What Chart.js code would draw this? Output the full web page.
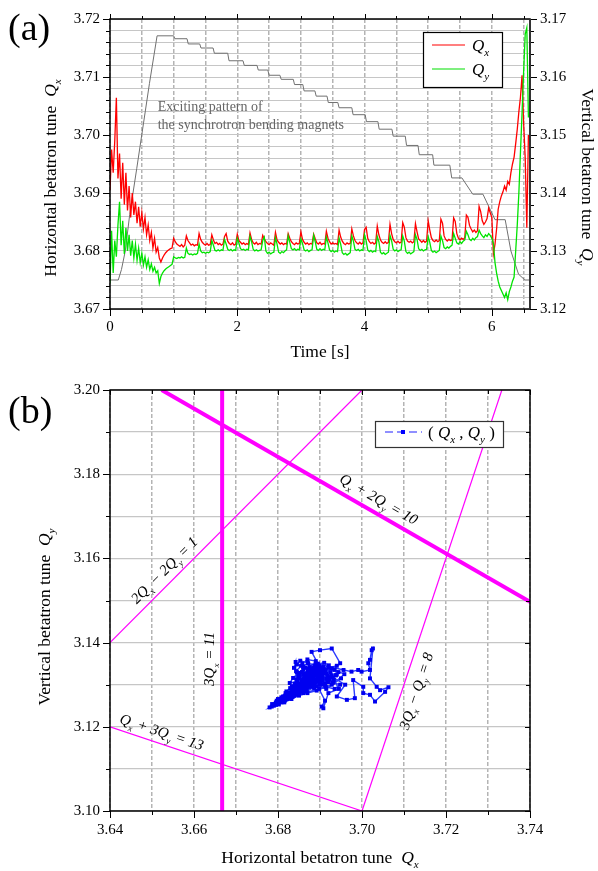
<!DOCTYPE html>
<html>
<head>
<meta charset="utf-8">
<script src="https://cdn.jsdelivr.net/npm/chart.js@4.4.1/dist/chart.umd.min.js"></script>
<style>
  body { margin: 0; background: #fff; }
  #wrap { position: relative; width: 598px; height: 871px; }
  canvas { position: absolute; left: 0; }
  #tuneTime { top: 0; }
  #tuneDiagram { top: 370px; }
</style>
</head>
<body>
<div id="wrap">
  <canvas id="tuneTime" width="598" height="370"></canvas>
  <canvas id="tuneDiagram" width="598" height="501"></canvas>
</div>
<script>
const FONT = '"Liberation Serif", "Times New Roman", serif';

// tune measurement, one sample every 25 ms after injection
const sampleStep = 0.025;

const qxTune = [
  3.6905, 3.6975, 3.6935, 3.6990, 3.7064, 3.6925, 3.6968, 3.6890, 3.6952, 3.6880,
  3.6935, 3.6870, 3.6912, 3.6858, 3.6900, 3.6862, 3.6885, 3.6848, 3.6876, 3.6842,
  3.6866, 3.6838, 3.6858, 3.6828, 3.6845, 3.6818, 3.6832, 3.6805, 3.6822, 3.6798,
  3.6806, 3.6788, 3.6781, 3.6788, 3.6793, 3.6797, 3.6800, 3.6802, 3.6804, 3.6805,
  3.6822, 3.6816, 3.6812, 3.6810, 3.6808, 3.6811, 3.6807, 3.6810,
  3.6826, 3.6818, 3.6814, 3.6810, 3.6812, 3.6809, 3.6811, 3.6810,
  3.6830, 3.6820, 3.6815, 3.6812, 3.6810, 3.6813, 3.6810, 3.6811,
  3.6828, 3.6819, 3.6813, 3.6815, 3.6811, 3.6813, 3.6810, 3.6812,
  3.6825, 3.6830, 3.6817, 3.6813, 3.6811, 3.6814, 3.6810, 3.6812,
  3.6829, 3.6818, 3.6815, 3.6812, 3.6814, 3.6811, 3.6813, 3.6811,
  3.6831, 3.6820, 3.6814, 3.6812, 3.6815, 3.6811, 3.6813, 3.6812,
  3.6827, 3.6821, 3.6816, 3.6813, 3.6811, 3.6814, 3.6812, 3.6810,
  3.6832, 3.6819, 3.6815, 3.6812, 3.6814, 3.6811, 3.6813, 3.6812,
  3.6830, 3.6822, 3.6816, 3.6813, 3.6811, 3.6814, 3.6812, 3.6813,
  3.6833, 3.6820, 3.6815, 3.6812, 3.6814, 3.6811, 3.6813, 3.6812,
  3.6829, 3.6821, 3.6814, 3.6812, 3.6815, 3.6811, 3.6813, 3.6812,
  3.6834, 3.6822, 3.6816, 3.6812, 3.6814, 3.6812, 3.6813, 3.6811,
  3.6836, 3.6824, 3.6817, 3.6813, 3.6811, 3.6814, 3.6812, 3.6813,
  3.6838, 3.6826, 3.6818, 3.6814, 3.6812, 3.6815, 3.6812, 3.6814,
  3.6837, 3.6841, 3.6822, 3.6816, 3.6813, 3.6815, 3.6812, 3.6814,
  3.6843, 3.6828, 3.6819, 3.6815, 3.6813, 3.6816, 3.6813, 3.6815,
  3.6846, 3.6830, 3.6820, 3.6816, 3.6814, 3.6817, 3.6814, 3.6815,
  3.6849, 3.6841, 3.6823, 3.6817, 3.6815, 3.6817, 3.6814, 3.6816,
  3.6847, 3.6833, 3.6821, 3.6818, 3.6815, 3.6818, 3.6815, 3.6817,
  3.6852, 3.6836, 3.6823, 3.6818, 3.6816, 3.6819, 3.6816, 3.6818,
  3.6855, 3.6848, 3.6826, 3.6820, 3.6817, 3.6820, 3.6818, 3.6819,
  3.6857, 3.6851, 3.6830, 3.6822, 3.6819, 3.6822, 3.6820, 3.6823,
  3.6862, 3.6858, 3.6844, 3.6838, 3.6833, 3.6836, 3.6832, 3.6835,
  3.6877, 3.6868, 3.6852, 3.6846, 3.6850, 3.6856, 3.6874, 3.6866,
  3.6858, 3.6795, 3.6812, 3.6838, 3.6872, 3.6885, 3.6895, 3.6902,
  3.6912, 3.6905, 3.6920, 3.6915, 3.6935, 3.6950, 3.6962, 3.6985,
  3.7010, 3.7040, 3.7065, 3.7103, 3.7020, 3.6960, 3.6840, 3.7000
];

const qyTune = [
  3.1244, 3.1335, 3.1262, 3.1318, 3.1290, 3.1345, 3.1385, 3.1310, 3.1352, 3.1295,
  3.1340, 3.1300, 3.1328, 3.1292, 3.1318, 3.1288, 3.1312, 3.1284, 3.1305, 3.1280,
  3.1296, 3.1276, 3.1290, 3.1272, 3.1285, 3.1268, 3.1278, 3.1265, 3.1272, 3.1262,
  3.1266, 3.1244, 3.1256, 3.1262, 3.1266, 3.1269, 3.1271, 3.1273, 3.1275, 3.1277,
  3.1290, 3.1288, 3.1287, 3.1289, 3.1288, 3.1290, 3.1288, 3.1289,
  3.1305, 3.1296, 3.1294, 3.1295, 3.1293, 3.1295, 3.1294, 3.1296,
  3.1312, 3.1300, 3.1297, 3.1298, 3.1296, 3.1298, 3.1297, 3.1299,
  3.1318, 3.1310, 3.1301, 3.1300, 3.1302, 3.1300, 3.1302, 3.1301,
  3.1320, 3.1312, 3.1303, 3.1301, 3.1303, 3.1300, 3.1302, 3.1301,
  3.1322, 3.1314, 3.1304, 3.1302, 3.1303, 3.1301, 3.1303, 3.1302,
  3.1325, 3.1316, 3.1303, 3.1300, 3.1302, 3.1300, 3.1301, 3.1302,
  3.1318, 3.1324, 3.1300, 3.1296, 3.1298, 3.1295, 3.1297, 3.1298,
  3.1323, 3.1312, 3.1298, 3.1296, 3.1299, 3.1297, 3.1300, 3.1302,
  3.1326, 3.1315, 3.1304, 3.1302, 3.1304, 3.1301, 3.1303, 3.1302,
  3.1321, 3.1313, 3.1302, 3.1300, 3.1302, 3.1299, 3.1301, 3.1302,
  3.1327, 3.1316, 3.1303, 3.1301, 3.1304, 3.1301, 3.1303, 3.1302,
  3.1324, 3.1314, 3.1302, 3.1299, 3.1301, 3.1298, 3.1300, 3.1299,
  3.1322, 3.1312, 3.1297, 3.1294, 3.1296, 3.1293, 3.1295, 3.1297,
  3.1326, 3.1317, 3.1303, 3.1301, 3.1303, 3.1300, 3.1302, 3.1301,
  3.1328, 3.1318, 3.1302, 3.1299, 3.1301, 3.1298, 3.1300, 3.1299,
  3.1325, 3.1316, 3.1298, 3.1295, 3.1297, 3.1294, 3.1296, 3.1298,
  3.1327, 3.1318, 3.1303, 3.1300, 3.1302, 3.1299, 3.1301, 3.1302,
  3.1326, 3.1317, 3.1299, 3.1296, 3.1298, 3.1295, 3.1297, 3.1299,
  3.1328, 3.1320, 3.1304, 3.1301, 3.1303, 3.1300, 3.1302, 3.1303,
  3.1325, 3.1315, 3.1301, 3.1298, 3.1300, 3.1297, 3.1299, 3.1301,
  3.1326, 3.1318, 3.1306, 3.1304, 3.1307, 3.1305, 3.1308, 3.1310,
  3.1330, 3.1322, 3.1314, 3.1312, 3.1316, 3.1313, 3.1317, 3.1319,
  3.1334, 3.1328, 3.1320, 3.1318, 3.1322, 3.1319, 3.1323, 3.1325,
  3.1336, 3.1330, 3.1326, 3.1323, 3.1328, 3.1325, 3.1330, 3.1327,
  3.1322, 3.1313, 3.1280, 3.1262, 3.1248, 3.1238, 3.1232, 3.1226,
  3.1220, 3.1228, 3.1216, 3.1230, 3.1238, 3.1248, 3.1255, 3.1300,
  3.1345, 3.1400, 3.1470, 3.1538, 3.1610, 3.1674, 3.1685, 3.1530
];

// bending magnet excitation pattern, drawn on the Qx scale (shape only)
const excitationTime = [
  0, 0.13, 0.18, 0.24, 0.31, 0.42, 0.62, 0.74, 1.00, 1.02,
  1.21, 1.23, 1.41, 1.43, 1.62, 1.64, 1.85, 1.87, 2.09, 2.11,
  2.31, 2.33, 2.48, 2.50, 2.67, 2.69, 2.88, 2.90, 3.03, 3.05,
  3.22, 3.24, 3.41, 3.43, 3.58, 3.60, 3.80, 3.82, 4.01, 4.03,
  4.21, 4.23, 4.43, 4.45, 4.64, 4.66, 4.84, 4.86, 5.07, 5.09,
  5.34, 5.37, 5.53, 5.70, 5.86, 6.05, 6.21, 6.30, 6.42, 6.52, 6.60
];
const excitationLevel = [
  3.6750, 3.6750, 3.6768, 3.6800, 3.6863, 3.6942, 3.7089, 3.7171, 3.7171, 3.7166,
  3.7166, 3.7157, 3.7157, 3.7150, 3.7150, 3.7141, 3.7141, 3.7128, 3.7128, 3.7120,
  3.7120, 3.7112, 3.7112, 3.7103, 3.7103, 3.7096, 3.7096, 3.7087, 3.7087, 3.7076,
  3.7076, 3.7067, 3.7067, 3.7056, 3.7056, 3.7047, 3.7047, 3.7035, 3.7035, 3.7023,
  3.7023, 3.7010, 3.7010, 3.6998, 3.6998, 3.6982, 3.6982, 3.6966, 3.6966, 3.6948,
  3.6948, 3.6926, 3.6926, 3.6898, 3.6898, 3.6854, 3.6854, 3.6800, 3.6760, 3.6750, 3.6750
];

// (Qx, Qy) path on the tune diagram
const pathQx = [
  3.6905, 3.6948, 3.6928, 3.6900, 3.6880, 3.6895, 3.6956, 3.6975, 3.6991, 3.6999,
  3.7019, 3.7015, 3.7019, 3.7023, 3.7026, 3.7019, 3.7035, 3.7043, 3.7063, 3.7055,
  3.7031, 3.7019, 3.7003, 3.7003, 3.6979, 3.6983, 3.6964, 3.6940, 3.6960, 3.6930,
  3.6945, 3.6920, 3.6908, 3.6904, 3.6912, 3.6890, 3.6885, 3.6902, 3.6872, 3.6868,
  3.6812, 3.6826, 3.6838, 3.6822, 3.6806, 3.6795, 3.6810, 3.6829, 3.6846, 3.6861,
  3.6876, 3.6863, 3.6848, 3.6857, 3.6874, 3.6887, 3.6871, 3.6853, 3.6845, 3.6860,
  3.6880, 3.6898, 3.6884, 3.6867, 3.6852, 3.6836, 3.6819, 3.6801, 3.6815, 3.6833,
  3.6850, 3.6868, 3.6886, 3.6903, 3.6920, 3.6906, 3.6889, 3.6872, 3.6857, 3.6842,
  3.6829, 3.6844, 3.6861, 3.6879, 3.6896, 3.6913, 3.6901, 3.6882, 3.6864, 3.6847,
  3.6833, 3.6820, 3.6808, 3.6797, 3.6786, 3.6800, 3.6818, 3.6837, 3.6855, 3.6874,
  3.6862, 3.6884, 3.6871, 3.6893, 3.6879, 3.6858, 3.6847, 3.6869, 3.6888, 3.6902,
  3.6915, 3.6897, 3.6876, 3.6860, 3.6852, 3.6866, 3.6885, 3.6906, 3.6921, 3.6910,
  3.6889, 3.6872, 3.6855, 3.6843, 3.6851, 3.6840, 3.6832, 3.6851, 3.6874, 3.6896,
  3.6918, 3.6933, 3.6912, 3.6886, 3.6862, 3.6843, 3.6826, 3.6818, 3.6834, 3.6856,
  3.6878, 3.6899, 3.6884, 3.6866, 3.6849, 3.6836, 3.6828, 3.6845, 3.6868, 3.6890,
  3.6912, 3.6928, 3.6944, 3.6927, 3.6905, 3.6883, 3.6865, 3.6848, 3.6830, 3.6812,
  3.6808, 3.6824, 3.6841, 3.6859, 3.6877, 3.6894, 3.6908, 3.6890, 3.6870, 3.6858,
  3.6872, 3.6894, 3.6915, 3.6932, 3.6948, 3.6935, 3.6914, 3.6892, 3.6870, 3.6850,
  3.6832, 3.6815, 3.6802, 3.6816, 3.6835, 3.6857, 3.6880, 3.6900, 3.6922, 3.6940,
  3.6895, 3.6910, 3.6880, 3.6862, 3.6890, 3.6875, 3.6905, 3.6858, 3.6885, 3.6918,
  3.6870, 3.6898, 3.6925, 3.6882, 3.6850, 3.6875, 3.6900, 3.6938, 3.6912, 3.6865,
  3.6888, 3.6870, 3.6845, 3.6860, 3.6895, 3.6920, 3.6940, 3.6908, 3.6878, 3.6855,
  3.6838, 3.6852, 3.6880, 3.6902, 3.6930, 3.6950, 3.6915, 3.6892, 3.6868, 3.6835,
  3.6848, 3.6872, 3.6890, 3.6862, 3.6842, 3.6828, 3.6845, 3.6865, 3.6882, 3.6900,
  3.6925, 3.6895, 3.6870, 3.6840, 3.6822, 3.6835, 3.6855, 3.6878, 3.6905, 3.6935,
  3.6958, 3.6928, 3.6898, 3.6860, 3.6830, 3.6815, 3.6825, 3.6848, 3.6872, 3.6862,
  3.6838, 3.6812, 3.6800, 3.6818, 3.6808, 3.6795, 3.6803, 3.6790, 3.6798, 3.6785,
  3.6780, 3.6788, 3.6800, 3.6820, 3.6843, 3.6842, 3.6838, 3.6845, 3.6865, 3.6885
];
const pathQy = [
  3.1312, 3.1351, 3.1386, 3.1382, 3.1378, 3.1350, 3.1335, 3.1331, 3.1335, 3.1331,
  3.1335, 3.1351, 3.1359, 3.1382, 3.1386, 3.1315, 3.1295, 3.1287, 3.1294, 3.1283,
  3.1260, 3.1276, 3.1280, 3.1295, 3.1311, 3.1268, 3.1264, 3.1272, 3.1300, 3.1318,
  3.1290, 3.1280, 3.1244, 3.1248, 3.1262, 3.1305, 3.1322, 3.1340, 3.1318, 3.1300,
  3.1272, 3.1281, 3.1287, 3.1276, 3.1265, 3.1258, 3.1264, 3.1273, 3.1284, 3.1298,
  3.1306, 3.1315, 3.1320, 3.1330, 3.1334, 3.1345, 3.1352, 3.1357, 3.1348, 3.1342,
  3.1330, 3.1322, 3.1312, 3.1304, 3.1292, 3.1282, 3.1270, 3.1258, 3.1262, 3.1271,
  3.1280, 3.1289, 3.1298, 3.1300, 3.1306, 3.1316, 3.1310, 3.1317, 3.1310, 3.1300,
  3.1292, 3.1312, 3.1325, 3.1338, 3.1344, 3.1336, 3.1326, 3.1320, 3.1312, 3.1304,
  3.1296, 3.1284, 3.1270, 3.1262, 3.1254, 3.1266, 3.1280, 3.1294, 3.1303, 3.1326,
  3.1302, 3.1318, 3.1331, 3.1340, 3.1325, 3.1311, 3.1298, 3.1316, 3.1306, 3.1318,
  3.1326, 3.1334, 3.1342, 3.1336, 3.1322, 3.1326, 3.1328, 3.1337, 3.1346, 3.1352,
  3.1348, 3.1350, 3.1345, 3.1332, 3.1314, 3.1302, 3.1290, 3.1301, 3.1309, 3.1312,
  3.1321, 3.1312, 3.1303, 3.1292, 3.1286, 3.1276, 3.1268, 3.1274, 3.1284, 3.1295,
  3.1321, 3.1329, 3.1337, 3.1340, 3.1328, 3.1316, 3.1304, 3.1308, 3.1320, 3.1324,
  3.1330, 3.1339, 3.1330, 3.1322, 3.1309, 3.1300, 3.1294, 3.1288, 3.1280, 3.1268,
  3.1262, 3.1278, 3.1293, 3.1306, 3.1314, 3.1320, 3.1342, 3.1356, 3.1360, 3.1350,
  3.1338, 3.1332, 3.1314, 3.1305, 3.1300, 3.1290, 3.1295, 3.1286, 3.1280, 3.1274,
  3.1266, 3.1258, 3.1253, 3.1263, 3.1275, 3.1284, 3.1296, 3.1304, 3.1313, 3.1324,
  3.1328, 3.1335, 3.1296, 3.1290, 3.1312, 3.1338, 3.1320, 3.1285, 3.1302, 3.1310,
  3.1325, 3.1345, 3.1330, 3.1310, 3.1282, 3.1295, 3.1300, 3.1322, 3.1298, 3.1308,
  3.1332, 3.1312, 3.1280, 3.1296, 3.1318, 3.1340, 3.1345, 3.1328, 3.1305, 3.1292,
  3.1276, 3.1288, 3.1300, 3.1312, 3.1305, 3.1315, 3.1290, 3.1296, 3.1285, 3.1272,
  3.1285, 3.1298, 3.1322, 3.1318, 3.1290, 3.1270, 3.1278, 3.1292, 3.1315, 3.1330,
  3.1318, 3.1308, 3.1295, 3.1283, 3.1266, 3.1278, 3.1288, 3.1310, 3.1325, 3.1335,
  3.1325, 3.1300, 3.1290, 3.1280, 3.1272, 3.1262, 3.1270, 3.1282, 3.1302, 3.1288,
  3.1274, 3.1260, 3.1256, 3.1266, 3.1258, 3.1252, 3.1260, 3.1250, 3.1255, 3.1248,
  3.1246, 3.1252, 3.1262, 3.1275, 3.1295, 3.1354, 3.1340, 3.1330, 3.1320, 3.1340
];

// resonance lines, end points in (Qx, Qy)
const resonanceQx = [[3.6667, 3.6667], [3.6523, 3.74], [3.64, 3.70], [3.64, 3.70], [3.70, 3.7333]];
const resonanceQy = [[3.10, 3.20], [3.20, 3.1497], [3.14, 3.20], [3.12, 3.10], [3.10, 3.20]];
const resonanceWidth = [4, 4, 1.2, 1.2, 1.2];
// label text, and where its centre sits in (Qx, Qy)
const resonanceText = [
  [['3', 'i'], ['Q', 'i'], ['x', 's'], [' = 11', 'i']],
  [['Q', 'i'], ['x', 's'], [' + 2', 'i'], ['Q', 'i'], ['y', 's'], [' = 10', 'i']],
  [['2', 'i'], ['Q', 'i'], ['x', 's'], [' \u2212 2', 'i'], ['Q', 'i'], ['y', 's'], [' = 1', 'i']],
  [['Q', 'i'], ['x', 's'], [' + 3', 'i'], ['Q', 'i'], ['y', 's'], [' = 13', 'i']],
  [['3', 'i'], ['Q', 'i'], ['x', 's'], [' \u2212 ', 'i'], ['Q', 'i'], ['y', 's'], [' = 8', 'i']]
];
const resonanceLabelAt = [[3.6636, 3.1361], [3.7040, 3.1741], [3.6529, 3.1572], [3.6523, 3.1188], [3.7129, 3.1285]];

// ---- drawing helpers ----
function fontFor(kind, size) {
  const s = kind === 's' ? Math.round(size * 0.62) : size;
  return (kind === 'n' ? '' : 'italic ') + s + 'px ' + FONT;
}

// parts: [text, kind], kind n = upright, i = italic, s = italic subscript
function drawRich(ctx, parts, x, y, size, opt = {}) {
  let w = 0;
  parts.forEach(([t, k]) => { ctx.font = fontFor(k, size); w += ctx.measureText(t).width; });
  ctx.save();
  ctx.translate(x, y);
  ctx.rotate(opt.angle || 0);
  ctx.fillStyle = opt.color || '#000';
  ctx.textAlign = 'left';
  ctx.textBaseline = 'alphabetic';
  let cx = opt.align === 'left' ? 0 : -w / 2;
  const dy = opt.middle ? size * 0.33 : 0;
  parts.forEach(([t, k]) => {
    ctx.font = fontFor(k, size);
    ctx.fillText(t, cx, dy + (k === 's' ? size * 0.3 : 0));
    cx += ctx.measureText(t).width;
  });
  ctx.restore();
}

function seg(ctx, x1, y1, x2, y2) {
  ctx.beginPath();
  ctx.moveTo(x1, y1);
  ctx.lineTo(x2, y2);
  ctx.stroke();
}

const centiLabel = v => Math.abs(v * 100 - Math.round(v * 100)) < 1e-4 ? v.toFixed(2) : '';
const evenCentiLabel = v => Math.round(v * 100) % 2 === 0 ? v.toFixed(2) : '';
const tickFont = { family: FONT, size: 15 };
const TITLE = 17.5;

// ---- (a) tune versus time ----
const timeAxis = qxTune.map((_, i) => +(i * sampleStep).toFixed(3));

const timeDecor = {
  id: 'timeDecor',
  afterDraw(chart) {
    const { ctx, chartArea: a, scales } = chart;
    const sx = scales.x, sl = scales.yLeft, sr = scales.yRight;
    ctx.save();
    ctx.strokeStyle = '#000';
    ctx.lineWidth = 1;
    for (let i = 0; i <= 13; i++) {
      const px = Math.round(sx.getPixelForValue(i * 0.5)) + 0.5;
      const major = i % 4 === 0;
      seg(ctx, px, a.bottom, px, a.bottom + (major ? 7 : 4));
      seg(ctx, px, a.top, px, a.top - (major ? 5 : 3));
    }
    for (let i = 0; i <= 25; i++) {
      const major = i % 5 === 0;
      const pl = Math.round(sl.getPixelForValue(3.67 + i * 0.002)) + 0.5;
      seg(ctx, a.left, pl, a.left - (major ? 7 : 4), pl);
      const pr = Math.round(sr.getPixelForValue(3.12 + i * 0.002)) + 0.5;
      seg(ctx, a.right, pr, a.right + (major ? 7 : 4), pr);
    }
    ctx.lineWidth = 1.5;
    ctx.strokeRect(a.left, a.top, a.right - a.left, a.bottom - a.top);
    ctx.strokeStyle = '#333';
    ctx.lineWidth = 2;
    seg(ctx, a.right, a.top, a.right, a.bottom);

    // note on the excitation curve
    ctx.fillStyle = '#666';
    ctx.font = '14px ' + FONT;
    ctx.textAlign = 'left';
    ctx.fillText('Exciting pattern of', sx.getPixelForValue(0.75), sl.getPixelForValue(3.7042));
    ctx.fillText('the synchrotron bending magnets', sx.getPixelForValue(0.75), sl.getPixelForValue(3.7011));

    // legend
    ctx.fillStyle = '#fff';
    ctx.fillRect(423, 32, 79, 55);
    ctx.strokeStyle = '#000';
    ctx.lineWidth = 1.2;
    ctx.strokeRect(423.5, 32.5, 79, 55);
    ctx.strokeStyle = '#ff0000';
    seg(ctx, 432, 45, 465, 45);
    ctx.strokeStyle = '#00e000';
    seg(ctx, 432, 69, 465, 69);
    drawRich(ctx, [['Q', 'i'], ['x', 's']], 472, 51, 17, { align: 'left' });
    drawRich(ctx, [['Q', 'i'], ['y', 's']], 472, 75, 17, { align: 'left' });

    // axis titles
    const cy = (a.top + a.bottom) / 2 + 14;
    drawRich(ctx, [['Horizontal betatron tune  ', 'n'], ['Q', 'i'], ['x', 's']], 50, cy, TITLE, { angle: -Math.PI / 2, middle: true });
    drawRich(ctx, [['Vertical betatron tune  ', 'n'], ['Q', 'i'], ['y', 's']], 588, cy - 1, TITLE, { angle: Math.PI / 2, middle: true });
    drawRich(ctx, [['Time [s]', 'n']], (a.left + a.right) / 2, 351, TITLE, { middle: true });

    ctx.fillStyle = '#000';
    ctx.font = '38px ' + FONT;
    ctx.fillText('(a)', 8, 40);
    ctx.restore();
  }
};

new Chart(document.getElementById('tuneTime'), {
  type: 'line',
  data: {
    datasets: [
      {
        label: 'Qy',
        data: qyTune.map((v, i) => ({ x: timeAxis[i], y: v })),
        yAxisID: 'yRight',
        borderColor: '#00e400',
        borderWidth: 1.3,
        order: 0
      },
      {
        label: 'Qx',
        data: qxTune.map((v, i) => ({ x: timeAxis[i], y: v })),
        yAxisID: 'yLeft',
        borderColor: '#ff0000',
        borderWidth: 1.3,
        order: 1
      },
      {
        label: 'Exciting pattern',
        data: excitationTime.map((t, i) => ({ x: t, y: excitationLevel[i] })),
        yAxisID: 'yLeft',
        borderColor: '#707070',
        borderWidth: 1,
        order: 2
      }
    ]
  },
  options: {
    responsive: false,
    animation: false,
    events: [],
    elements: { point: { radius: 0 }, line: { tension: 0 } },
    layout: { padding: { top: 15, left: 0, right: 0, bottom: 0 } },
    plugins: { legend: { display: false }, tooltip: { enabled: false } },
    scales: {
      x: {
        type: 'linear',
        position: 'bottom',
        min: 0,
        max: 6.6,
        ticks: {
          stepSize: 0.5,
          includeBounds: false,
          autoSkip: false,
          maxRotation: 0,
          padding: 9,
          font: tickFont,
          color: '#000',
          callback: v => (Math.abs(v - Math.round(v)) < 1e-6 && Math.round(v) % 2 === 0) ? String(Math.round(v)) : ''
        },
        grid: { color: '#b4b4b4', lineWidth: 1.5, drawTicks: false },
        border: { display: false, dash: [4, 2] },
        afterFit: s => { s.height = 61; }
      },
      yLeft: {
        type: 'linear',
        position: 'left',
        min: 3.67,
        max: 3.72,
        ticks: { stepSize: 0.002, autoSkip: false, padding: 10, font: tickFont, color: '#000', callback: centiLabel },
        grid: { color: '#c6c6c6', lineWidth: 1, drawTicks: false },
        border: { display: false },
        afterFit: s => { s.width = 110; }
      },
      yRight: {
        type: 'linear',
        position: 'right',
        min: 3.12,
        max: 3.17,
        ticks: { stepSize: 0.002, autoSkip: false, padding: 10, font: tickFont, color: '#000', callback: centiLabel },
        grid: { display: false, drawTicks: false },
        border: { display: false },
        afterFit: s => { s.width = 68; }
      }
    }
  },
  plugins: [timeDecor]
});

// ---- (b) tune diagram ----
const diagramDecor = {
  id: 'diagramDecor',
  afterDraw(chart) {
    const { ctx, chartArea: a, scales } = chart;
    const sx = scales.x, sy = scales.y;
    ctx.save();

    // resonance labels, turned along their lines
    resonanceText.forEach((parts, i) => {
      const p1x = sx.getPixelForValue(resonanceQx[i][0]), p1y = sy.getPixelForValue(resonanceQy[i][0]);
      const p2x = sx.getPixelForValue(resonanceQx[i][1]), p2y = sy.getPixelForValue(resonanceQy[i][1]);
      const ang = Math.atan2(p2y - p1y, p2x - p1x);
      drawRich(ctx, parts, sx.getPixelForValue(resonanceLabelAt[i][0]), sy.getPixelForValue(resonanceLabelAt[i][1]), 15,
        { angle: ang, middle: true });
    });

    ctx.strokeStyle = '#000';
    ctx.lineWidth = 1;
    for (let i = 0; i <= 10; i++) {
      const major = i % 2 === 0;
      const px = Math.round(sx.getPixelForValue(3.64 + i * 0.01)) + 0.5;
      seg(ctx, px, a.bottom, px, a.bottom + (major ? 7 : 4));
      seg(ctx, px, a.top, px, a.top + (major ? 5 : 4));
      const py = Math.round(sy.getPixelForValue(3.10 + i * 0.01)) + 0.5;
      seg(ctx, a.left, py, a.left - (major ? 7 : 4), py);
      seg(ctx, a.right, py, a.right - (major ? 5 : 4), py);
    }
    ctx.lineWidth = 1.5;
    ctx.strokeRect(a.left, a.top, a.right - a.left, a.bottom - a.top);

    // legend
    ctx.fillStyle = '#fff';
    ctx.fillRect(375, 51, 128, 26);
    ctx.strokeStyle = '#333';
    ctx.lineWidth = 1.2;
    ctx.strokeRect(375.5, 51.5, 128, 26);
    ctx.strokeStyle = '#6b6bff';
    ctx.lineWidth = 1.5;
    ctx.setLineDash([8, 4]);
    seg(ctx, 385, 62, 422, 62);
    ctx.setLineDash([]);
    ctx.fillStyle = '#0000ff';
    ctx.fillRect(401, 60, 4, 4);
    drawRich(ctx, [['( ', 'n'], ['Q', 'i'], ['x', 's'], [' , ', 'n'], ['Q', 'i'], ['y', 's'], [' )', 'n']], 428, 68, 17, { align: 'left' });

    // axis titles
    drawRich(ctx, [['Horizontal betatron tune  ', 'n'], ['Q', 'i'], ['x', 's']], (a.left + a.right) / 2, 487, TITLE, { middle: true });
    drawRich(ctx, [['Vertical betatron tune  ', 'n'], ['Q', 'i'], ['y', 's']], 44, 247, TITLE, { angle: -Math.PI / 2, middle: true });

    ctx.fillStyle = '#000';
    ctx.font = '38px ' + FONT;
    ctx.textAlign = 'left';
    ctx.fillText('(b)', 8, 53);
    ctx.restore();
  }
};

const resonanceSets = resonanceQx.map((qx, i) => ({
  label: 'resonance ' + (i + 1),
  data: [{ x: qx[0], y: resonanceQy[i][0] }, { x: qx[1], y: resonanceQy[i][1] }],
  showLine: true,
  borderColor: '#ff00ff',
  borderWidth: resonanceWidth[i],
  pointRadius: 0,
  order: 1
}));

new Chart(document.getElementById('tuneDiagram'), {
  type: 'scatter',
  data: {
    datasets: [
      {
        label: '(Qx, Qy)',
        data: pathQx.map((x, i) => ({ x, y: pathQy[i] })),
        showLine: true,
        borderColor: '#2b3bff',
        borderWidth: 1.4,
        pointStyle: 'rect',
        pointRadius: 2.8,
        pointBorderWidth: 0,
        pointBackgroundColor: '#0000f0',
        order: 0
      },
      ...resonanceSets
    ]
  },
  options: {
    responsive: false,
    animation: false,
    events: [],
    layout: { padding: { top: 20, left: 0, right: 68, bottom: 0 } },
    plugins: { legend: { display: false }, tooltip: { enabled: false } },
    scales: {
      x: {
        type: 'linear',
        min: 3.64,
        max: 3.74,
        ticks: { stepSize: 0.01, autoSkip: false, maxRotation: 0, padding: 10, font: tickFont, color: '#000', callback: evenCentiLabel },
        grid: { color: '#b4b4b4', lineWidth: 1.5, drawTicks: false },
        border: { display: false, dash: [4, 2] },
        afterFit: s => { s.height = 60; }
      },
      y: {
        type: 'linear',
        min: 3.10,
        max: 3.20,
        ticks: { stepSize: 0.01, autoSkip: false, padding: 10, font: tickFont, color: '#000', callback: evenCentiLabel },
        grid: { color: '#c6c6c6', lineWidth: 1.2, drawTicks: false },
        border: { display: false },
        afterFit: s => { s.width = 110; }
      }
    }
  },
  plugins: [diagramDecor]
});
</script>
</body>
</html>
